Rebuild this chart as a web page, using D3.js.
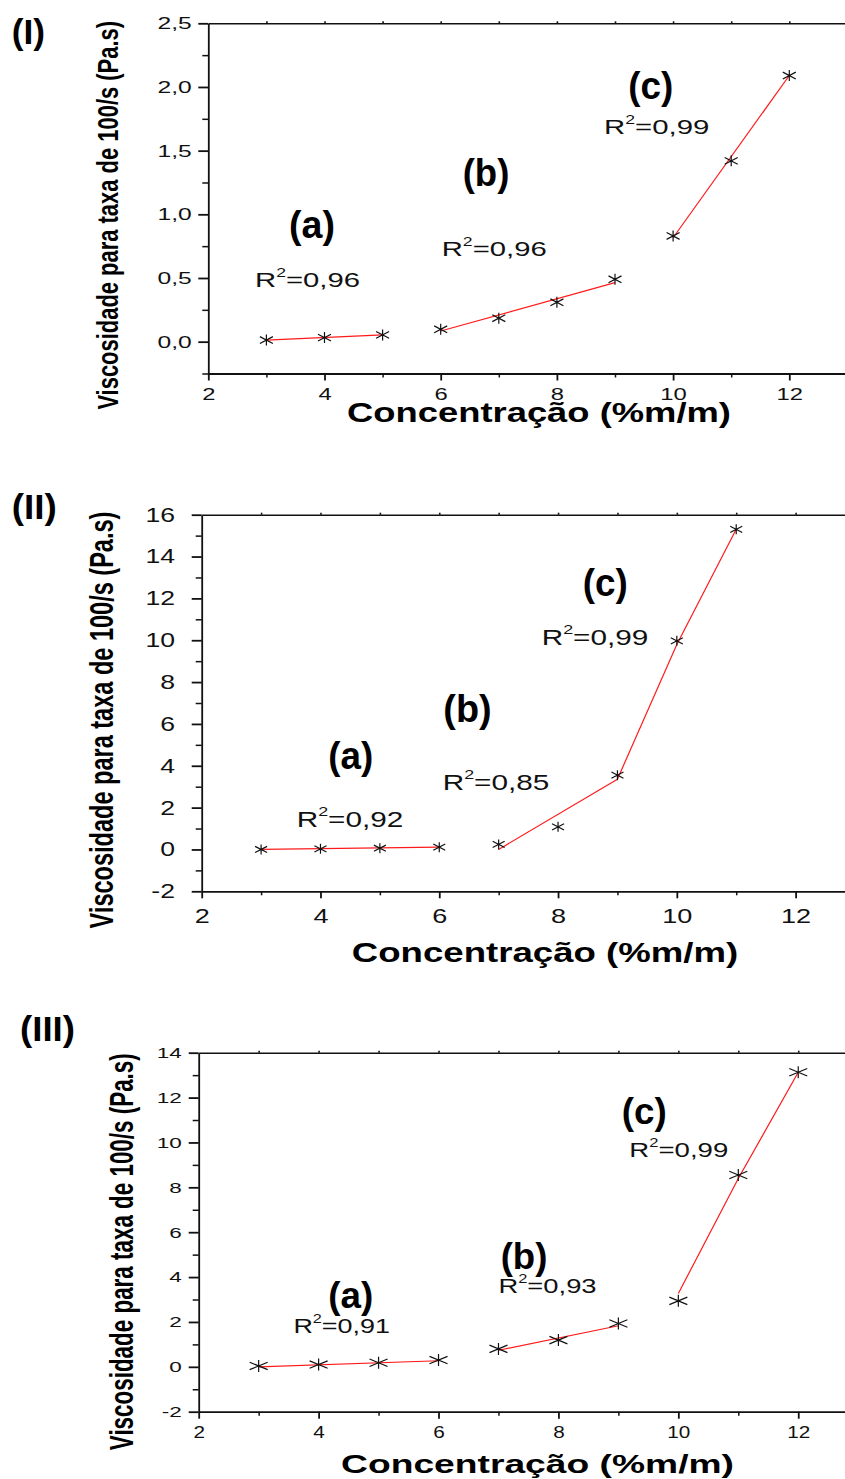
<!DOCTYPE html>
<html>
<head>
<meta charset="utf-8">
<script src="https://cdn.jsdelivr.net/npm/d3@7"></script>
<style>
  body { margin: 0; background: #fff; }
  svg { display: block; }
</style>
</head>
<body>
<svg id="fig"></svg>
<script>
// concentration (%m/m) and viscosity at 100/s (Pa.s)
const concI = [3, 4, 5, 6, 7, 8, 9, 10, 11, 12];
const viscI = [0.013, 0.032, 0.053, 0.097, 0.184, 0.309, 0.49, 0.83, 1.42, 2.09];
const fitI = [
  [[3, 0.012], [5, 0.053]],
  [[6, 0.084], [9, 0.463]],
  [[10, 0.816], [12, 2.09]]
];
const r2I = ['0,96', '0,96', '0,99'];

const concII = [3, 4, 5, 6, 7, 8, 9, 10, 11];
const viscII = [0.0, 0.03, 0.06, 0.11, 0.24, 1.08, 3.55, 9.97, 15.3];
const fitII = [
  [[3, 0.0], [6, 0.11]],
  [[7, 0.0], [9, 3.36]],
  [[9, 3.36], [10, 9.8], [11, 15.3]]
];
const r2II = ['0,92', '0,85', '0,99'];

const concIII = [3, 4, 5, 6, 7, 8, 9, 10, 11, 12];
const viscIII = [0.04, 0.10, 0.18, 0.30, 0.80, 1.19, 1.93, 2.94, 8.55, 13.13];
const fitIII = [
  [[3, 0.0], [6, 0.27]],
  [[7, 0.74], [9, 1.83]],
  [[10, 3.27], [11, 8.39], [12, 13.13]]
];
const r2III = ['0,91', '0,93', '0,99'];

const segLetters = ['(a)', '(b)', '(c)'];
const xTicks = [2, 4, 6, 8, 10, 12];
const yTicksI = [0, 0.5, 1.0, 1.5, 2.0, 2.5];
const yTicksII = [-2, 0, 2, 4, 6, 8, 10, 12, 14, 16];
const yTicksIII = [-2, 0, 2, 4, 6, 8, 10, 12, 14];

const xTitle = 'Concentração (%m/m)';
const yTitle = 'Viscosidade para taxa de 100/s (Pa.s)';

const width = 845, height = 1479;
const font = '"Liberation Sans", Arial, Helvetica, sans-serif';

const svg = d3.select('#fig').attr('width', width).attr('height', height);

// the original figure is stretched sideways, so text gets squeezed to the measured widths
function fitText(sel, cx, by, w, rotate) {
  const len = sel.node().getBBox().width;
  sel.attr('transform', 'translate(' + cx + ',' + by + ')' + (rotate ? ' rotate(-90)' : '') +
    ' scale(' + (w / len) + ',1)');
}

const star = (w, h) => ({
  draw(ctx) {
    ctx.moveTo(0, -h); ctx.lineTo(0, h);
    ctx.moveTo(-w, -0.62 * h); ctx.lineTo(w, 0.62 * h);
    ctx.moveTo(-w, 0.62 * h); ctx.lineTo(w, -0.62 * h);
  }
});

const panels = [
  {
    name: '(I)', conc: concI, visc: viscI, fits: fitI, r2: r2I,
    xRange: [208.3, 847.4], yDomain: [-0.25, 2.5], yRange: [373.5, 23.3],
    yTicks: yTicksI, yMinor: d3.range(-0.25, 2.5, 0.5),
    yFmt: d => d3.format('.1f')(d).replace('.', ','),
    yFs: 17, ySx: 1.45, yOff: 16.6, xFs: 17, xSx: 1.4, xLabelY: 26.5,
    title: {cx: 28.3, by: 44.3, fs: 35, w: 33.3},
    yT: {bx: 118.3, cy: 215.3, fs: 30, len: 389},
    xT: {cx: 539, by: 422, fs: 27, w: 384},
    letters: [{cx: 312, by: 238, w: 46}, {cx: 486, by: 186, w: 46.7}, {cx: 650.8, by: 99, w: 45}],
    letFs: 38,
    r2Pos: [{cx: 307.5, by: 287.3, w: 105}, {cx: 494.2, by: 256, w: 105}, {cx: 656.7, by: 134, w: 105.3}],
    r2Fs: 21,
    marker: [6.5, 5.5]
  },
  {
    name: '(II)', conc: concII, visc: viscII, fits: fitII, r2: r2II,
    xRange: [201.7, 855], yDomain: [-2, 16], yRange: [891.3, 514.7],
    yTicks: yTicksII, yMinor: d3.range(-1, 16, 2),
    yFmt: d => String(d),
    yFs: 20, ySx: 1.33, yOff: 26.7, xFs: 20.5, xSx: 1.32, xLabelY: 32,
    title: {cx: 34.2, by: 519, fs: 35, w: 45},
    yT: {bx: 113.3, cy: 720, fs: 32.6, len: 416.7},
    xT: {cx: 545, by: 961.7, fs: 28, w: 386.7},
    letters: [{cx: 350.8, by: 769, w: 45}, {cx: 467.5, by: 722, w: 48.3}, {cx: 605.2, by: 596, w: 45}],
    letFs: 38,
    r2Pos: [{cx: 350, by: 826.7, w: 106.7}, {cx: 496, by: 790, w: 106.7}, {cx: 595, by: 645, w: 106.7}],
    r2Fs: 22,
    marker: [6, 5]
  },
  {
    name: '(III)', conc: concIII, visc: viscIII, fits: fitIII, r2: r2III,
    xRange: [198.7, 858.2], yDomain: [-2, 14], yRange: [1411.7, 1052.7],
    yTicks: yTicksIII, yMinor: d3.range(-1, 14, 2),
    yFmt: d => String(d),
    yFs: 15, ySx: 1.5, yOff: 17, xFs: 17, xSx: 1.22, xLabelY: 26,
    title: {cx: 47.5, by: 1041, fs: 35.5, w: 55},
    yT: {bx: 133.3, cy: 1251.7, fs: 32.6, len: 396.7},
    xT: {cx: 537.5, by: 1473, fs: 25.6, w: 393},
    letters: [{cx: 350.8, by: 1308, w: 45}, {cx: 524, by: 1269, w: 46.7}, {cx: 644.2, by: 1124, w: 45}],
    letFs: 37,
    r2Pos: [{cx: 341.7, by: 1332.7, w: 96.7}, {cx: 547.5, by: 1293.3, w: 98.3}, {cx: 678.8, by: 1156.7, w: 99}],
    r2Fs: 20,
    marker: [9, 6]
  }
];

panels.forEach(p => {
  const g = svg.append('g');
  const x = d3.scaleLinear().domain([2, 13]).range(p.xRange);
  const y = d3.scaleLinear().domain(p.yDomain).range(p.yRange);

  // top border with small ticks
  g.append('g')
    .attr('transform', 'translate(0,' + p.yRange[1] + ')')
    .call(d3.axisTop(x).tickValues(d3.range(3, 13)).tickSize(2).tickSizeOuter(0).tickFormat(''))
    .call(a => a.selectAll('path, line').attr('stroke', '#111').attr('stroke-width', 1.6));

  // x axis
  const gx = g.append('g')
    .attr('transform', 'translate(0,' + p.yRange[0] + ')')
    .call(d3.axisBottom(x).tickValues(xTicks).tickSize(7).tickSizeOuter(0).tickFormat(d3.format('d')));
  gx.selectAll('path, line').attr('stroke', '#111').attr('stroke-width', 1.8);
  gx.selectAll('text')
    .attr('dy', null)
    .attr('y', p.xLabelY)
    .attr('fill', '#111')
    .attr('font-family', font)
    .attr('font-size', p.xFs)
    .attr('transform', 'scale(' + p.xSx + ',1)');
  g.append('g')
    .attr('transform', 'translate(0,' + p.yRange[0] + ')')
    .call(d3.axisBottom(x).tickValues([3, 5, 7, 9, 11]).tickSize(4).tickFormat(''))
    .call(a => a.select('.domain').remove())
    .call(a => a.selectAll('line').attr('stroke', '#111').attr('stroke-width', 1.5));

  // y axis
  const gy = g.append('g')
    .attr('transform', 'translate(' + p.xRange[0] + ',0)')
    .call(d3.axisLeft(y).tickValues(p.yTicks).tickSize(10).tickSizeOuter(0).tickFormat(p.yFmt));
  gy.selectAll('path, line').attr('stroke', '#111').attr('stroke-width', 1.8);
  gy.selectAll('text')
    .attr('x', -p.yOff / p.ySx)
    .attr('fill', '#111')
    .attr('font-family', font)
    .attr('font-size', p.yFs)
    .attr('transform', 'scale(' + p.ySx + ',1)');
  g.append('g')
    .attr('transform', 'translate(' + p.xRange[0] + ',0)')
    .call(d3.axisLeft(y).tickValues(p.yMinor).tickSize(6).tickFormat(''))
    .call(a => a.select('.domain').remove())
    .call(a => a.selectAll('line').attr('stroke', '#111').attr('stroke-width', 1.5));

  // fitted segments
  const line = d3.line().x(d => x(d[0])).y(d => y(d[1]));
  g.selectAll('path.fit')
    .data(p.fits)
    .join('path')
    .attr('class', 'fit')
    .attr('d', line)
    .attr('fill', 'none')
    .attr('stroke', '#ff1a1a')
    .attr('stroke-width', 1.2);

  // measured points
  const pts = p.conc.map((c, i) => ({c: c, v: p.visc[i]}));
  const sym = d3.symbol().type(star(p.marker[0], p.marker[1]));
  g.selectAll('path.pt')
    .data(pts)
    .join('path')
    .attr('class', 'pt')
    .attr('d', sym)
    .attr('transform', d => 'translate(' + x(d.c) + ',' + y(d.v) + ')')
    .attr('fill', 'none')
    .attr('stroke', '#111')
    .attr('stroke-width', 1.2);

  // axis titles
  const xt = g.append('text')
    .attr('text-anchor', 'middle')
    .attr('font-family', font)
    .attr('font-weight', 'bold')
    .attr('font-size', p.xT.fs)
    .text(xTitle);
  fitText(xt, p.xT.cx, p.xT.by, p.xT.w, false);

  const yt = g.append('text')
    .attr('text-anchor', 'middle')
    .attr('font-family', font)
    .attr('font-weight', 'bold')
    .attr('font-size', p.yT.fs)
    .text(yTitle);
  fitText(yt, p.yT.bx, p.yT.cy, p.yT.len, true);

  // panel tag
  const tt = g.append('text')
    .attr('text-anchor', 'middle')
    .attr('font-family', font)
    .attr('font-weight', 'bold')
    .attr('font-size', p.title.fs)
    .text(p.name);
  fitText(tt, p.title.cx, p.title.by, p.title.w, false);

  // region letters and R² notes
  p.letters.forEach((L, i) => {
    const t = g.append('text')
      .attr('text-anchor', 'middle')
      .attr('font-family', font)
      .attr('font-weight', 'bold')
      .attr('font-size', p.letFs)
      .text(segLetters[i]);
    fitText(t, L.cx, L.by, L.w, false);
  });

  p.r2Pos.forEach((R, i) => {
    const t = g.append('text')
      .attr('text-anchor', 'middle')
      .attr('font-family', font)
      .attr('font-size', p.r2Fs)
      .attr('fill', '#111');
    t.append('tspan').text('R');
    t.append('tspan').attr('font-size', p.r2Fs * 0.6).attr('dy', -p.r2Fs * 0.5).text('2');
    t.append('tspan').attr('dy', p.r2Fs * 0.5).text('=' + p.r2[i]);
    fitText(t, R.cx, R.by, R.w, false);
  });
});
</script>
</body>
</html>
